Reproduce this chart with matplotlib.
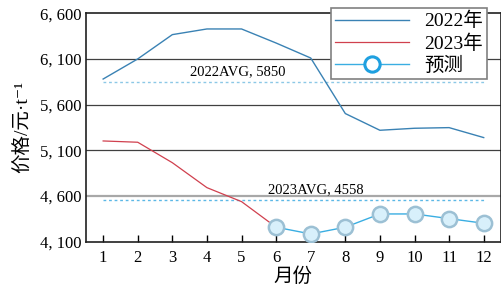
import matplotlib.pyplot as plt
from matplotlib.ticker import FuncFormatter

plt.rcParams['font.family'] = ['Liberation Serif', 'Noto Sans CJK SC', 'DejaVu Serif']

months = list(range(1, 13))
price_2022 = [5880, 6100, 6366, 6428, 6428, 6274, 6110, 5502, 5319, 5341, 5348, 5239]
months_2023 = [1, 2, 3, 4, 5, 6]
price_2023 = [5202, 5188, 4964, 4691, 4538, 4258]
months_pred = [6, 7, 8, 9, 10, 11, 12]
price_pred = [4258, 4184, 4258, 4403, 4403, 4352, 4301]
avg_2022 = 5850
avg_2023 = 4558

fig = plt.figure(figsize=(5.02, 2.88), dpi=100)
ax = fig.add_axes([0.171, 0.161, 0.827, 0.793])

# grid lines
for y in [5100, 5600, 6100]:
    ax.axhline(y, color='#404040', lw=0.9, zorder=1)
ax.axhline(4600, color='#a8a8a8', lw=1.6, zorder=1)

# average lines
ax.plot([1, 12], [avg_2022, avg_2022], ls=(0, (2, 2)), color='#8cc8e6', lw=1.0, zorder=2)
ax.plot([1, 12], [avg_2023, avg_2023], ls=(0, (2, 2)), color='#5cb8e6', lw=1.0, zorder=2)
ax.text(3.5, avg_2022 + 40, '2022AVG, 5850', fontsize=10.5, va='bottom', ha='left')
ax.text(5.76, avg_2023 + 40, '2023AVG, 4558', fontsize=10.5, va='bottom', ha='left')

l1, = ax.plot(months, price_2022, color='#3a82b4', lw=1.0, zorder=3, label='2022年')
l2, = ax.plot(months_2023, price_2023, color='#d0404e', lw=0.9, zorder=3, label='2023年')
ax.plot(months_pred, price_pred, color='#3aaee2', lw=1.0, marker='o', ms=11,
        mfc='#d8f0fb', mec='#9cc0d4', mew=1.8, zorder=4)
# legend proxy for prediction
l3, = ax.plot([], [], color='#3aaee2', lw=1.0, marker='o', ms=11,
              mfc='white', mec='#1fa0e0', mew=2.2, label='预测')

ax.set_xlim(0.5, 12.5)
ax.set_ylim(4100, 6600)
ax.set_xticks(months)
ax.set_yticks([4100, 4600, 5100, 5600, 6100, 6600])
ax.yaxis.set_major_formatter(FuncFormatter(lambda v, p: f'{int(v):,}'.replace(',', ', ')))
ax.tick_params(axis='x', direction='in', length=5, width=1, labelsize=12, pad=6)
ax.tick_params(axis='y', length=0, labelsize=12, pad=3)
for s in ax.spines.values():
    s.set_linewidth(1.2)
    s.set_color('#202020')

ax.set_xlabel('月份', fontsize=14)
ax.xaxis.set_label_coords(0.5, -0.115)
ax.set_ylabel('价格/元·t⁻¹', fontsize=14, labelpad=6)

leg = fig.legend(handles=[l1, l2, l3], loc='upper right',
                 bbox_to_anchor=(0.970, 0.972), borderaxespad=0, fontsize=14, frameon=True,
                 fancybox=False, edgecolor='#808080', framealpha=1,
                 handlelength=3.8, borderpad=0.2, labelspacing=0.2, handletextpad=0.8)
leg.get_frame().set_linewidth(1.2)

fig.savefig('out.png', dpi=100)
